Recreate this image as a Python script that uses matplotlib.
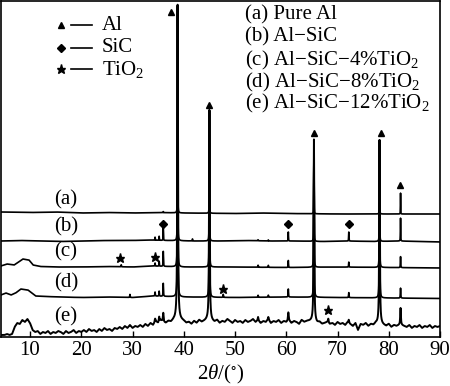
import numpy as np
import matplotlib
matplotlib.use("Agg")
import matplotlib.pyplot as plt
from matplotlib.lines import Line2D

plt.rcParams['font.family'] = ['Liberation Serif', 'DejaVu Serif']
plt.rcParams['mathtext.fontset'] = 'custom'
plt.rcParams['mathtext.rm'] = 'Liberation Serif'
plt.rcParams['mathtext.it'] = 'Liberation Serif:italic'
plt.rcParams['mathtext.default'] = 'regular'

# y values are offsets in plot units (stacked patterns)
peak_pos = [27.8, 29.5, 34.4, 35.2, 36.0, 38.8, 41.7, 45.0, 47.7, 54.5, 56.5, 60.4, 65.4, 68.2, 72.2, 78.2, 82.3]
a_h = [0, 0, 0, 0, 1, 208, 0, 103, 0, 0, 0, 0, 73, 0, 0, 73, 21]
b_h = [0, 0, 3, 4, 14, 236, 2, 131, 0, 1, 1, 9, 101, 0, 9, 101, 23]
c_h = [2, 0, 3, 5, 15, 262, 0, 157, 0, 2, 2, 7, 127, 0, 5, 127, 11]
d_h = [0, 3, 4, 5, 13, 293, 0, 188, 3, 2, 2, 8, 158, 0, 5, 158, 10]
e_h = [0, 0, 3, 5, 9, 314, 0, 210, 0, 3, 2, 8, 182, 4, 3, 184, 17]

a_kx = [4.3, 10, 15, 20, 25, 30, 35, 40, 50, 55, 60, 70, 80, 90.5]
a_ky = [125, 124.5, 125, 124, 124.5, 124, 124.5, 124, 123.5, 124, 123.5, 123, 123, 123]
b_kx = [4.3, 8, 12, 16, 20, 25, 30, 33, 37, 42, 47, 52, 57, 62, 67, 72, 77, 82, 86, 90.5]
b_ky = [96, 96.5, 96, 95.5, 96, 96.5, 96.5, 97, 96.5, 96, 96, 96.5, 96, 96, 95.5, 96, 95.5, 96, 95.5, 95]
c_kx = [4.3, 5.5, 6.9, 7.8, 8.6, 9.8, 10.6, 12, 15, 20, 25, 30, 34, 40, 50, 60, 70, 80, 90.5]
c_ky = [71, 73, 72, 75, 78, 77, 72, 70.5, 70, 70, 70.5, 70, 71, 70, 70, 69.5, 70, 69.5, 69]
d_kx = [4.3, 5.3, 6.3, 7.2, 8.2, 9.6, 11.1, 13, 16, 20, 25, 30, 34, 40, 50, 60, 70, 80, 90.5]
d_ky = [42, 44, 42, 44, 48, 47, 41, 40.5, 40, 39.5, 40, 39.5, 41, 40, 39.5, 40, 39.5, 39, 38.5]

# (e) is noisy, knots every 0.5 deg starting at 4.5
e_ky = [2, 2, 3, 2, 3,
        10, 14, 13, 17, 15, 18, 14, 7, 5, 6,
        3, 5, 4, 6, 3, 5, 4, 6, 5, 3,
        6, 4, 5, 7, 4, 6, 5, 7, 5, 8,
        6, 7, 5, 8, 6, 9, 7, 8, 6, 9,
        8, 10, 8, 11, 9, 12, 9, 11, 10, 12,
        10, 13, 11, 14, 12, 16, 14, 17, 15, 14,
        16, 15, 17, 18, 18, 17, 16, 14, 15, 13,
        16, 14, 17, 15, 16, 17, 17, 16, 15, 17,
        14, 16, 15, 18, 16, 14, 17, 15, 16, 14,
        17, 15, 16, 18, 15, 17, 14, 16, 15, 18,
        14, 16, 15, 17, 14, 16, 15, 17, 14, 16,
        15, 13, 17, 15, 16, 16, 16, 15, 14, 15,
        13, 14, 15, 13, 14, 12, 15, 13, 14, 12,
        15, 13, 11, 14, 7, 13, 12, 14, 11, 13,
        12, 14, 13, 13, 12, 11, 13, 10, 12, 11,
        12, 12, 11, 10, 12, 9, 11, 10, 12, 9,
        11, 10, 12, 9, 11, 10, 11]
e_kx = np.arange(4.5, 90.51, 0.5)[:len(e_ky)]

widths = [0.035, 0.04, 0.045, 0.05, 0.08]
etas = [0.3, 0.4, 0.5, 0.6, 0.75]

curve_labels = ["(a)", "(b)", "(c)", "(d)", "(e)"]
label_y = [137, 110, 85, 54, 20]

al_x = [37.6, 45.0, 65.5, 78.4, 82.2]
al_y = [325, 232, 204, 204, 152]
sic_x = [36.0, 60.4, 72.2]
sic_y = [113, 113, 113]
tio2_x = [27.6, 34.4, 47.7, 68.1]
tio2_y = [79, 80, 48, 27]

sample_names = ["(a) Pure Al", "(b) Al\u2212SiC", "(c) Al\u2212SiC\u22124%TiO$_2$",
                "(d) Al\u2212SiC\u22128%TiO$_2$", "(e) Al\u2212SiC\u221212%TiO$_2$"]
phase_names = ["Al", "SiC", "TiO$_2$"]


def profile(x, heights, w, eta):
    y = np.zeros_like(x)
    for p, h in zip(peak_pos, heights):
        if h == 0:
            continue
        d = (x - p) / w
        y += h * (eta / (1 + d ** 2) + (1 - eta) * np.exp(-np.log(2) * d ** 2))
    return y


W, H = 450, 386
fig = plt.figure(figsize=(4.5, 3.86), dpi=100)
ax = fig.add_axes([1 / W, 49 / H, 439 / W, 336 / H])

x = np.linspace(4.3, 90.5, 12000)
bases = [(a_kx, a_ky), (b_kx, b_ky), (c_kx, c_ky), (d_kx, d_ky), (e_kx, e_ky)]
heights = [a_h, b_h, c_h, d_h, e_h]
for i in range(5):
    kx, ky = bases[i]
    y = np.interp(x, kx, ky) + profile(x, heights[i], widths[i], etas[i])
    ax.plot(x, y, color='black', lw=1.2 if i < 4 else 1.4)

for lab, ly in zip(curve_labels, label_y):
    ax.text(17.0, ly, lab, fontsize=15, ha='center', va='center')

ax.plot(al_x, al_y, '^', color='black', ms=5, ls='none')
ax.plot(sic_x, sic_y, 'D', color='black', ms=4, ls='none')
ax.plot(tio2_x, tio2_y, '*', color='black', ms=6.5, ls='none')

ax.set_xlim(4.34, 90)
ax.set_ylim(0, 336)
ax.set_xticks([10, 20, 30, 40, 50, 60, 70, 80, 90])
ax.set_yticks([])
ax.tick_params(axis='x', direction='in', length=4, width=1, labelsize=15, pad=3)
for s in ax.spines.values():
    s.set_linewidth(1.2)
ax.set_xlabel('$\\mathit{2\u03b8}$/($^{\\circ}$)', fontsize=15, labelpad=2)


def fx(px):
    return px / W


def fy(py):
    return 1 - py / H


# phase key
marks = ['^', 'D', '*']
sizes = [5, 4, 6.5]
key_y = [25, 48, 69]
for m, s, ky, name in zip(marks, sizes, key_y, phase_names):
    fig.add_artist(Line2D([fx(61)], [fy(ky)], marker=m, ms=s, color='black', ls='none'))
    fig.add_artist(Line2D([fx(71), fx(92)], [fy(ky), fy(ky)], color='black', lw=1.2))
    fig.text(fx(102), fy(ky), name, fontsize=15, va='center', ha='left')

# sample key
name_y = [15, 37, 60, 82, 103]
for name, ny in zip(sample_names, name_y):
    fig.text(fx(245), fy(ny), name, fontsize=15, va='center', ha='left')

fig.savefig("out.png", dpi=100)
